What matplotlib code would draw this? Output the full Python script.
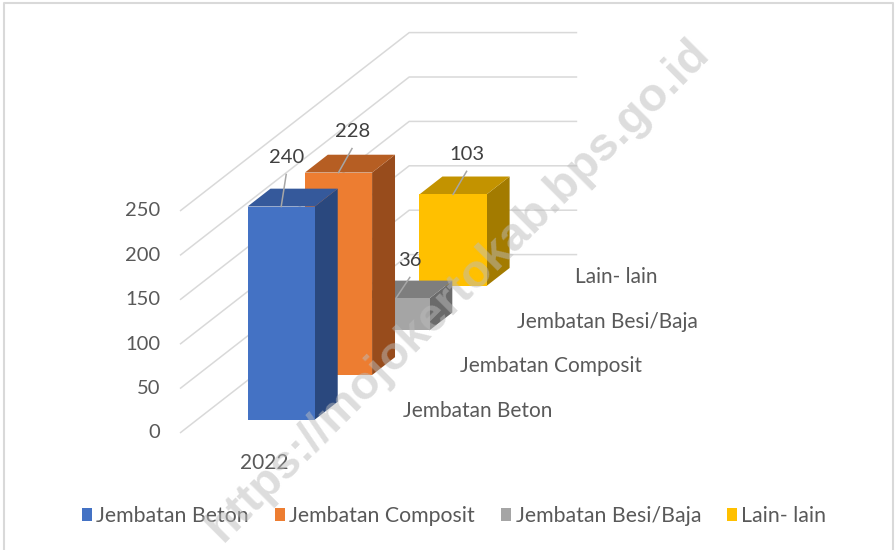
import matplotlib
matplotlib.use("Agg")
import matplotlib.pyplot as plt
from matplotlib.patches import Polygon, Patch

# ---------------- data ----------------
categories = ["2022"]
series = ["Jembatan Beton", "Jembatan Composit", "Jembatan Besi/Baja", "Lain- lain"]
values = [240, 228, 36, 103]
y_ticks = [0, 50, 100, 150, 200, 250]

# ---------------- style ----------------
front_colors = ["#4472C4", "#ED7D31", "#A5A5A5", "#FFC000"]
top_colors = ["#35599B", "#B65E23", "#7E7E7E", "#C39300"]
side_colors = ["#2A487E", "#984C1C", "#6A6A6A", "#A37B00"]
label_offsets = [(5.5, -49), (14, -41), (14.5, -38), (14, -40)]

FONT = ["Lato", "DejaVu Sans"]
plt.rcParams["font.family"] = FONT

W, H = 896, 550
fig = plt.figure(figsize=(W / 100, H / 100), dpi=100)
ax = fig.add_axes([0, 0, 1, 1])
ax.set_xlim(0, W)
ax.set_ylim(H, 0)
ax.axis("off")

# projection of the 3-D chart (pixel layout)
ORIGIN = (180.0, 433.0)   # front-left corner of value 0
CAT_W = 168.0             # width of one category along x
ROW = (57.3, -44.6)       # depth shift per series row
K = 0.888                 # pixels per value unit
GAP = 1.5                 # gap width / gap depth ratio
n_rows = len(series)
bw = CAT_W / (1 + GAP)
bd = 1 / (1 + GAP)
bdx, bdy = ROW[0] * bd, ROW[1] * bd


def proj(cat_x, depth, value):
    """cat_x in category units (0..1), depth in rows, value in data units."""
    return (ORIGIN[0] + cat_x * CAT_W + depth * ROW[0],
            ORIGIN[1] + depth * ROW[1] - value * K)


# gridlines (side wall + back wall)
for v in y_ticks:
    p0 = proj(0, 0, v)
    p1 = proj(0, n_rows, v)
    p2 = proj(1, n_rows, v)
    ax.plot([p0[0], p1[0], p2[0]], [p0[1], p1[1], p2[1]],
            color="#d9d9d9", lw=1.1, zorder=1, solid_capstyle="butt")
    ax.text(p0[0] - 20, p0[1], f"{v}", ha="right", va="center",
            fontsize=14.5, color="#595959")

# series (depth) axis labels
for i, s in enumerate(series):
    px, py = proj(1, i + 0.5, 0)
    ax.text(px + 26, py, s, ha="left", va="center", fontsize=15, color="#595959")

# category label
cx, cy = proj(0.5, 0, 0)
ax.text(cx, cy + 30, categories[0], ha="center", va="center",
        fontsize=15, color="#595959")

# bars, drawn back to front
for i in reversed(range(n_rows)):
    v = values[i]
    x0, y0 = proj((1 - bw / CAT_W) / 2, i + (1 - bd) / 2, 0)
    h = v * K
    front = [(x0, y0), (x0 + bw, y0), (x0 + bw, y0 - h), (x0, y0 - h)]
    top = [(x0, y0 - h), (x0 + bw, y0 - h), (x0 + bw + bdx, y0 - h + bdy),
           (x0 + bdx, y0 - h + bdy)]
    side = [(x0 + bw, y0), (x0 + bw + bdx, y0 + bdy),
            (x0 + bw + bdx, y0 - h + bdy), (x0 + bw, y0 - h)]
    z = 10 + (n_rows - i) * 3
    ax.add_patch(Polygon(side, closed=True, facecolor=side_colors[i], edgecolor="none", zorder=z))
    ax.add_patch(Polygon(top, closed=True, facecolor=top_colors[i], edgecolor="none", zorder=z))
    ax.add_patch(Polygon(front, closed=True, facecolor=front_colors[i], edgecolor="none", zorder=z + 1))
    # data label with leader line
    ax_, ay_ = x0 + bw / 2, y0 - h
    ox, oy = label_offsets[i]
    tx, ty = ax_ + ox, ay_ + oy
    ax.plot([ax_, tx - 0.5], [ay_, ty + 17], color="#a6a6a6", lw=1.1, zorder=z + 2)
    ax.text(tx, ty, f"{v}", ha="center", va="center", fontsize=14.5,
            color="#404040", zorder=40)

# legend
handles = [Patch(facecolor=c, edgecolor="none", label=s) for s, c in zip(series, front_colors)]
leg = ax.legend(handles=handles, ncol=4, loc="center",
                bbox_to_anchor=(454 / W, 1 - 516 / H), frameon=False,
                fontsize=15.3, handlelength=0.5, handleheight=0.5,
                handletextpad=0.2, columnspacing=1.2, labelcolor="#595959",
                borderaxespad=0, borderpad=0)

# chart border
ax.plot([4, 4, 893, 893], [H, 3, 3, H], color="#d9d9d9", lw=1.5, zorder=0)

# watermark
ax.text(458, 290, "https://mojokertokab.bps.go.id", rotation=45,
        rotation_mode="anchor", ha="center", va="center", fontsize=34,
        fontweight="bold", family=["Liberation Sans", "DejaVu Sans"],
        color="#bcbcbc", alpha=0.5, zorder=50)

fig.savefig("out.png", dpi=100)
